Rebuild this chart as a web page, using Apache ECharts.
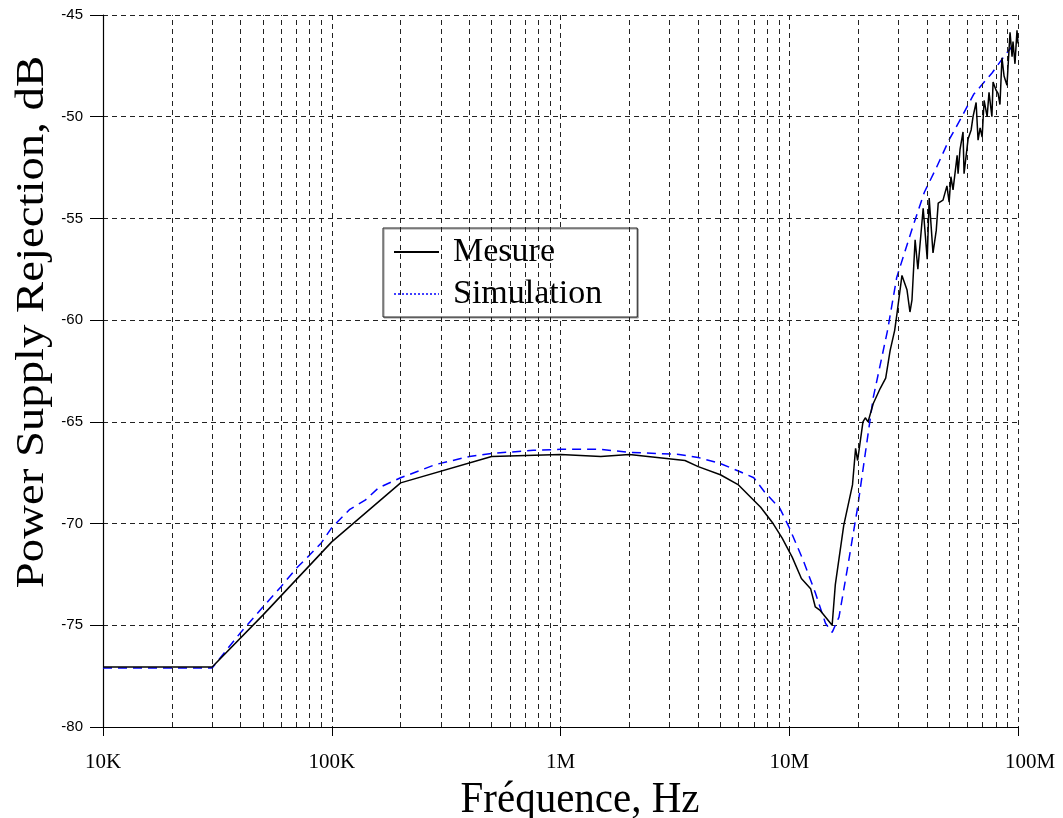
<!DOCTYPE html>
<html>
<head>
<meta charset="utf-8">
<script src="https://cdn.jsdelivr.net/npm/echarts@6/dist/echarts.min.js"></script>
<style>
html,body{margin:0;padding:0;background:#fff;}
#chart{width:1063px;height:818px;}
</style>
</head>
<body>
<div id="chart"></div>
<script>
// ---- Data ----
var mesureFreq = [1e4, 3e4, 5e4, 1e5, 2e5, 5e5, 1e6, 1.5e6, 2e6, 3.5e6, 4e6, 5e6, 6e6, 7.5e6, 8.5e6, 9.3e6,
  10.3e6, 11.3e6, 12.4e6, 13e6, 13.6e6, 15.4e6, 15.9e6, 17.3e6, 18.9e6, 19.5e6, 19.9e6, 21e6, 21.5e6, 22.1e6,
  23.3e6, 25e6, 26.4e6, 27.6e6, 28.9e6, 29.6e6, 31.1e6, 32.7e6, 33.7e6, 34.4e6, 35.5e6, 36.5e6, 38.5e6, 40.1e6,
  40.9e6, 42.5e6, 43.9e6, 44.8e6, 47.0e6, 48.9e6, 50.0e6, 50.9e6, 52.0e6, 54.2e6, 54.7e6, 55.8e6, 57.5e6, 58.1e6,
  60.5e6, 62.4e6, 63.6e6, 65.6e6, 66.9e6, 68.3e6, 69.7e6, 71.1e6, 73.3e6, 74.7e6, 76.9e6, 77.8e6, 80.2e6, 81.8e6,
  83.4e6, 85.1e6, 86.9e6, 89.5e6, 92.3e6, 94.2e6, 95.1e6, 97.0e6, 99.0e6, 100e6];
var mesureDb = [-77.05, -77.05, -74.5, -70.9, -68.0, -66.7, -66.6, -66.7, -66.6, -66.9, -67.2, -67.6, -68.1, -69.2, -70.0, -70.7,
  -71.65, -72.7, -73.2, -74.1, -74.25, -75.0, -73.0, -70.1, -68.1, -66.3, -66.9, -65.0, -64.8, -65.0,
  -64.1, -63.35, -62.85, -61.5, -60.5, -59.65, -57.8, -58.5, -59.6, -59.0, -56.05, -57.5, -54.5, -57.0,
  -54.0, -56.7, -55.6, -54.25, -54.1, -53.4, -54.2, -52.95, -53.6, -51.9, -52.8, -51.6, -50.75, -52.8,
  -51.1, -50.65, -50.0, -49.3, -51.15, -50.55, -51.0, -49.2, -50.0, -48.8, -50.0, -48.3, -48.7, -48.85,
  -49.4, -47.1, -48.0, -48.45, -45.85, -47.05, -46.3, -47.4, -45.75, -46.4];

var simFreq = [1e4, 3e4, 4e4, 5e4, 6e4, 7e4, 8e4, 9e4, 1e5, 1.2e5, 1.4e5, 1.6e5, 2e5, 2.84e5, 4e5, 5e5, 7.6e5,
  1e6, 1.5e6, 2e6, 3.3e6, 4e6, 5e6, 6.1e6, 7e6, 7.8e6, 9.1e6, 10e6, 11.5e6, 13e6, 14.4e6, 15.4e6, 16.5e6,
  17.9e6, 19.9e6, 21.5e6, 23.3e6, 26.9e6, 29.5e6, 34.7e6, 39e6, 44e6, 49.9e6, 56.5e6, 64e6, 77e6, 88e6, 100e6];
var simDb = [-77.1, -77.1, -75.35, -74.1, -73.1, -72.2, -71.55, -70.95, -70.2, -69.3, -68.85, -68.25, -67.75, -67.1, -66.7, -66.55, -66.4,
  -66.35, -66.35, -66.5, -66.6, -66.75, -67.05, -67.45, -67.75, -68.45, -69.25, -70.2, -71.8, -73.4, -74.9, -75.35, -74.6,
  -72.3, -69.2, -66.55, -63.8, -60.5, -57.9, -55.4, -53.7, -52.5, -51.15, -50.05, -48.9, -47.85, -46.95, -46.2];

var xTickLabels = {10000: '10K', 100000: '100K', 1000000: '1M', 10000000: '10M', 100000000: '100M'};
var yMin = -80, yMax = -45, yStep = 5;
var xMin = 1e4, xMax = 1e8;
var decades = [1e4, 1e5, 1e6, 1e7];
var minorMultipliers = [2, 3, 4, 5, 6, 7, 8, 9];
var seriesNames = ['Mesure', 'Simulation'];
var xTitle = 'Fréquence, Hz';
var yTitle = 'Power Supply Rejection, dB';

// ---- Build ----
function zip(a, b) { return a.map(function (v, i) { return [v, b[i]]; }); }
var minorPositions = [];
decades.forEach(function (d) { minorMultipliers.forEach(function (m) { minorPositions.push(d * m); }); });

var minorGrid = minorPositions.map(function (x) { return { xAxis: x }; });
var minorTicks = minorPositions.map(function (x) {
  return [{ coord: [x, yMin - 0.2] }, { coord: [x, yMin + 0.2] }];
});

var serif = '"Liberation Serif", "Times New Roman", serif';
var sans = '"Liberation Sans", Arial, sans-serif';

var chart = echarts.init(document.getElementById('chart'), null, { renderer: 'canvas' });
chart.setOption({
  animation: false,
  backgroundColor: '#fff',
  grid: { left: 103, right: 45, top: 15, bottom: 91, containLabel: false },
  xAxis: {
    type: 'log', logBase: 10, min: xMin, max: xMax,
    axisLine: { show: true, onZero: false, lineStyle: { color: '#000', width: 1.2 } },
    axisTick: { show: true, length: 9, lineStyle: { color: '#000' } },
    axisLabel: {
      color: '#000', fontFamily: serif, fontSize: 21, margin: 25,
      formatter: function (v) {
        var l = xTickLabels[Math.round(v)] || '';
        return l === '100M' ? '{r|' + l + '}' : l;
      },
      rich: { r: { fontFamily: serif, fontSize: 21, color: '#000', padding: [0, 0, 0, 24] } }
    },
    splitLine: { show: true, lineStyle: { color: '#222', type: [5, 4], width: 1 } },
    minorTick: { show: false }
  },
  yAxis: {
    type: 'value', min: yMin, max: yMax, interval: yStep,
    axisLine: { show: true, lineStyle: { color: '#000', width: 1.2 } },
    axisTick: { show: true, length: 13, lineStyle: { color: '#000' } },
    axisLabel: { color: '#000', fontFamily: sans, fontSize: 15, margin: 20 },
    splitLine: { show: true, lineStyle: { color: '#222', type: [5, 4], width: 1 } }
  },
  legend: {
    orient: 'vertical', left: 383, top: 228,
    data: [
      { name: seriesNames[0], itemStyle: { opacity: 0 } },
      { name: seriesNames[1], itemStyle: { opacity: 0 }, lineStyle: { type: [2, 2], width: 1.5, color: '#0000ff' } }
    ],
    backgroundColor: '#fff', borderColor: '#222', borderWidth: 1,
    shadowColor: '#999', shadowOffsetX: 1, shadowOffsetY: 1, shadowBlur: 0,
    padding: [7, 35, 6, 10], itemGap: 8, itemWidth: 45, itemHeight: 14,
    textStyle: { fontFamily: serif, fontSize: 34, color: '#000', padding: [0, 0, 0, 9] }
  },
  graphic: [
    { type: 'text', x: 580, y: 800, scaleY: 1.1,
      style: { text: xTitle, font: '41px ' + serif, fill: '#000', align: 'center', verticalAlign: 'middle' } },
    { type: 'text', x: 32, y: 322, rotation: Math.PI / 2, scaleX: 1.14,
      style: { text: yTitle, font: '41px ' + serif, fill: '#000', align: 'center', verticalAlign: 'middle' } }
  ],
  series: [
    {
      name: '_grid', type: 'line', data: [], silent: true, clip: false, z: 1,
      markLine: {
        silent: true, symbol: 'none', animation: false,
        label: { show: false },
        lineStyle: { color: '#222', type: [5, 4], width: 1 },
        data: minorGrid
      }
    },
    {
      name: '_ticks', type: 'line', data: [], silent: true, clip: false, z: 1,
      markLine: {
        silent: true, symbol: 'none', animation: false,
        label: { show: false },
        lineStyle: { color: '#000', type: 'solid', width: 1 },
        data: minorTicks
      }
    },
    {
      name: seriesNames[0], type: 'line', data: zip(mesureFreq, mesureDb),
      symbol: 'none', z: 5,
      lineStyle: { color: '#000', width: 1.5 }, itemStyle: { color: '#000' }
    },
    {
      name: seriesNames[1], type: 'line', data: zip(simFreq, simDb),
      symbol: 'none', z: 4,
      lineStyle: { color: '#0000ff', width: 1.5, type: [9, 6] }, itemStyle: { color: '#0000ff' }
    }
  ]
});
</script>
</body>
</html>
